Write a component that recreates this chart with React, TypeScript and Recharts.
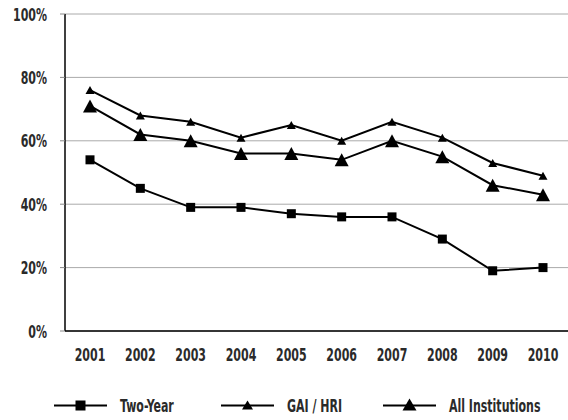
import React from "react";
import { LineChart, Line, XAxis, YAxis, CartesianGrid, Legend } from "recharts";

const years = ["2001", "2002", "2003", "2004", "2005", "2006", "2007", "2008", "2009", "2010"];
const twoYear = [54, 45, 39, 39, 37, 36, 36, 29, 19, 20];
const gaiHri = [76, 68, 66, 61, 65, 60, 66, 61, 53, 49];
const allInst = [71, 62, 60, 56, 56, 54, 60, 55, 46, 43];
const yTicks = [0, 20, 40, 60, 80, 100];
const boundaryTicks = [0, 1, 2, 3, 4, 5, 6, 7, 8, 9, 10];
const seriesNames = ["Two-Year", "GAI / HRI", "All Institutions"];

const data = years.map((y, i) => ({ year: y, two: twoYear[i], gai: gaiHri[i], all: allInst[i] }));

const FONT = "'DejaVu Sans', sans-serif";
const SX = 0.68;
const textStyle: any = { fontFamily: FONT, fontSize: 18, fontWeight: "bold", fontStretch: "condensed", fill: "#2a2a2a" };

const XTick = (p: any) => {
  const { x, y, payload } = p;
  return (
    <text transform={`translate(${x},${y + 30}) scale(${SX},1)`} textAnchor="middle" style={textStyle}>
      {payload.value}
    </text>
  );
};
const YTick = (p: any) => {
  const { x, y, payload } = p;
  return (
    <text transform={`translate(${x},${y + 6.5}) scale(${SX},1)`} textAnchor="end" style={textStyle}>
      {`${payload.value}%`}
    </text>
  );
};

const Square = (p: any) => {
  const { cx, cy } = p;
  if (cx == null || cy == null) return null;
  const s = 9;
  return <rect x={cx - s / 2} y={cy - s / 2} width={s} height={s} fill="#000" />;
};
const makeTri = (w: number, h: number) => (p: any) => {
  const { cx, cy } = p;
  if (cx == null || cy == null) return null;
  return (
    <polygon
      points={`${cx},${cy - h / 2} ${cx + w / 2},${cy + h / 2} ${cx - w / 2},${cy + h / 2}`}
      fill="#000"
    />
  );
};
const SmallTri = makeTri(9, 8);
const BigTri = makeTri(14, 13);

// legend layout (pixel positions of each entry's line start)
const legendX = [54, 221, 383];
const legendMarkers = ["sq", "st", "bt"];

const LegendContent = () => {
  const cy = 34.5;
  return (
    <svg width={568} height={49} style={{ display: "block" }}>
      {seriesNames.map((name, i) => {
        const x0 = legendX[i];
        const mx = x0 + 26.5;
        const m = legendMarkers[i];
        return (
          <g key={name}>
            <line x1={x0} y1={cy} x2={x0 + 53} y2={cy} stroke="#000" strokeWidth={2} />
            {m === "sq" && <rect x={mx - 5} y={cy - 5} width={10} height={10} fill="#000" />}
            {m === "st" && <polygon points={`${mx},${cy - 5} ${mx + 5.5},${cy + 4} ${mx - 5.5},${cy + 4}`} fill="#000" />}
            {m === "bt" && <polygon points={`${mx},${cy - 7} ${mx + 7},${cy + 5} ${mx - 7},${cy + 5}`} fill="#000" />}
            <text transform={`translate(${x0 + 66},${cy + 6.5}) scale(${SX},1)`} textAnchor="start" style={textStyle}>
              {name}
            </text>
          </g>
        );
      })}
    </svg>
  );
};

export default function App() {
  return (
    <div style={{ position: "absolute", left: 0, top: 0, background: "#fff" }}>
      <LineChart width={568} height={420} data={data} margin={{ top: 14, right: 0, left: 0, bottom: 0 }}>
        <CartesianGrid vertical={false} stroke="#aaa" strokeWidth={1} />
        <XAxis
          xAxisId="b"
          type="number"
          domain={[0, 10]}
          ticks={boundaryTicks}
          tick={false}
          axisLine={false}
          tickLine={{ stroke: "#888" }}
          tickSize={6}
          height={0}
          allowDataOverflow
        />
        <XAxis
          dataKey="year"
          padding={{ left: 25, right: 25 }}
          axisLine={{ stroke: "#000", strokeWidth: 1.5 }}
          tickLine={false}
          tickSize={0}
          tickMargin={0}
          height={40}
          interval={0}
          tick={<XTick />}
        />
        <YAxis
          domain={[0, 100]}
          ticks={yTicks}
          width={65}
          axisLine={{ stroke: "#000", strokeWidth: 1.5 }}
          tickLine={{ stroke: "#888" }}
          tickSize={5}
          tickMargin={13}
          tick={<YTick />}
        />
        <Legend verticalAlign="bottom" height={49} content={<LegendContent />} />
        <Line dataKey="two" name={seriesNames[0]} stroke="#000" strokeWidth={2} dot={<Square />} activeDot={false} isAnimationActive={false} />
        <Line dataKey="gai" name={seriesNames[1]} stroke="#000" strokeWidth={2} dot={<SmallTri />} activeDot={false} isAnimationActive={false} />
        <Line dataKey="all" name={seriesNames[2]} stroke="#000" strokeWidth={2} dot={<BigTri />} activeDot={false} isAnimationActive={false} />
      </LineChart>
    </div>
  );
}
